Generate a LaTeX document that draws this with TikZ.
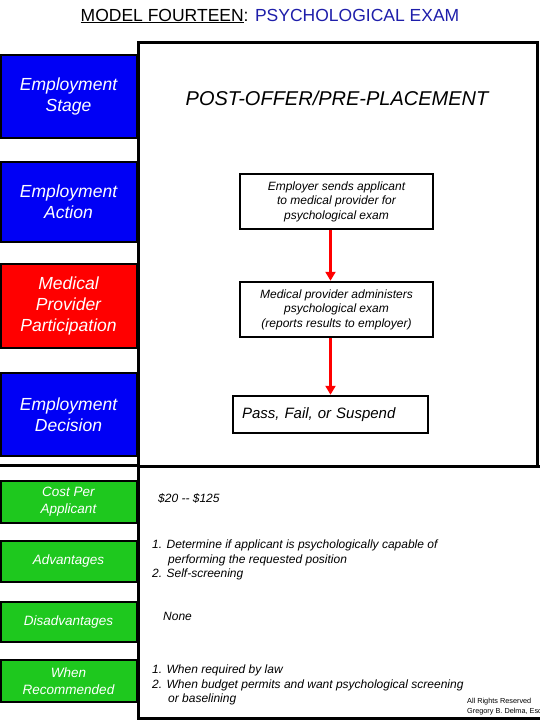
\documentclass[tikz,border=0pt]{standalone}
\usepackage{fontspec}
\setmainfont{Liberation Sans}
\usepackage{tikz}
\usetikzlibrary{arrows.meta}

\definecolor{stageblue}{RGB}{0,0,245}
\definecolor{provred}{RGB}{255,0,0}
\definecolor{infogreen}{RGB}{30,200,30}
\definecolor{titleblue}{RGB}{30,30,170}

\begin{document}
\begin{tikzpicture}[x=1pt,y=-1pt,
  labelbox/.style={draw=black,line width=2pt,minimum width=136pt,inner sep=0pt,
    align=center,text=white,font=\fontsize{17.5}{21}\selectfont\itshape},
  infobox/.style={labelbox,fill=infogreen,font=\fontsize{13.5}{17}\selectfont\itshape},
  flowbox/.style={draw=black,line width=2.5pt,minimum width=193pt,minimum height=55pt,
    inner sep=0pt,align=center,font=\fontsize{12}{14.5}\selectfont\itshape},
  listtext/.style={anchor=west,align=left,inner sep=0pt,font=\fontsize{12}{14.5}\selectfont\itshape},
  flow/.style={draw=provred,line width=3.2pt,-{Triangle[length=9pt,width=10pt]}}
]

% Page
\clip (0,0) rectangle (540,720);

% Title
\node[font=\fontsize{17.5}{20}\selectfont] (title) at (270,16)
  {\underline{MODEL FOURTEEN}: {\color{titleblue}PSYCHOLOGICAL EXAM}};

% Left column labels
\node[labelbox,fill=stageblue,minimum height=83pt] (stage) at (68.5,96.5) {Employment\\Stage};
\node[labelbox,fill=stageblue,minimum height=80pt] (action) at (68.5,202) {Employment\\Action};
\node[labelbox,fill=provred,minimum height=84pt] (provider) at (68.5,306) {Medical\\Provider\\Participation};
\node[labelbox,fill=stageblue,minimum height=83pt] (decision) at (68.5,414.5) {Employment\\Decision};

\node[infobox,minimum height=42pt] (cost) at (68.5,502) {Cost Per\\Applicant};
\node[infobox,minimum height=41pt] (adv) at (68.5,561.5) {Advantages};
\node[infobox,minimum height=40pt] (disadv) at (68.5,622) {Disadvantages};
\node[infobox,minimum height=42pt] (when) at (68.5,681) {When\\Recommended};

% Frames
\draw[line width=3pt] (138,42) rectangle (537,466);
\draw[line width=3pt] (545,466) -- (138,466) -- (138,718) -- (545,718);
\draw[line width=3.5pt] (0,465.5) -- (138,465.5);

% Stage heading
\node[font=\fontsize{20}{24}\selectfont\itshape] (phase) at (337,98) {POST-OFFER/PRE-PLACEMENT};

% Flow steps
\node[flowbox] (send) at (336.5,201.5) {Employer sends applicant\\to medical provider for\\psychological exam};
\node[flowbox] (admin) at (336.5,309.5) {Medical provider administers\\psychological exam\\(reports results to employer)};
\node[flowbox,minimum width=0pt,minimum height=37pt,text width=177pt,inner xsep=9pt,align=left,
  font=\fontsize{15}{18}\selectfont\itshape] (result) at (330.5,414.5) {Pass, Fail, or Suspend};

\draw[flow] (send.south -| result) -- (admin.north -| result);
\draw[flow] (admin.south -| result) -- (result.north);

% Lower rows
\node[listtext] (costtext) at (158,498) {\$20 -{}- \$125};
\node[listtext] (advtext) at (152,560) {1. Determine if applicant is psychologically capable of\\
  \hspace*{16pt}performing the requested position\\2. Self-screening};
\node[listtext] (disadvtext) at (163,616) {None};
\node[listtext] (whentext) at (152,685) {1. When required by law\\
  2. When budget permits and want psychological screening\\\hspace*{16pt}or baselining};

% Footer
\node[anchor=north west,align=left,inner sep=0pt,font=\fontsize{7.3}{10}\selectfont] (rights)
  at (467,698) {All Rights Reserved\\Gregory B. Delma, Esq.};

\end{tikzpicture}
\end{document}
